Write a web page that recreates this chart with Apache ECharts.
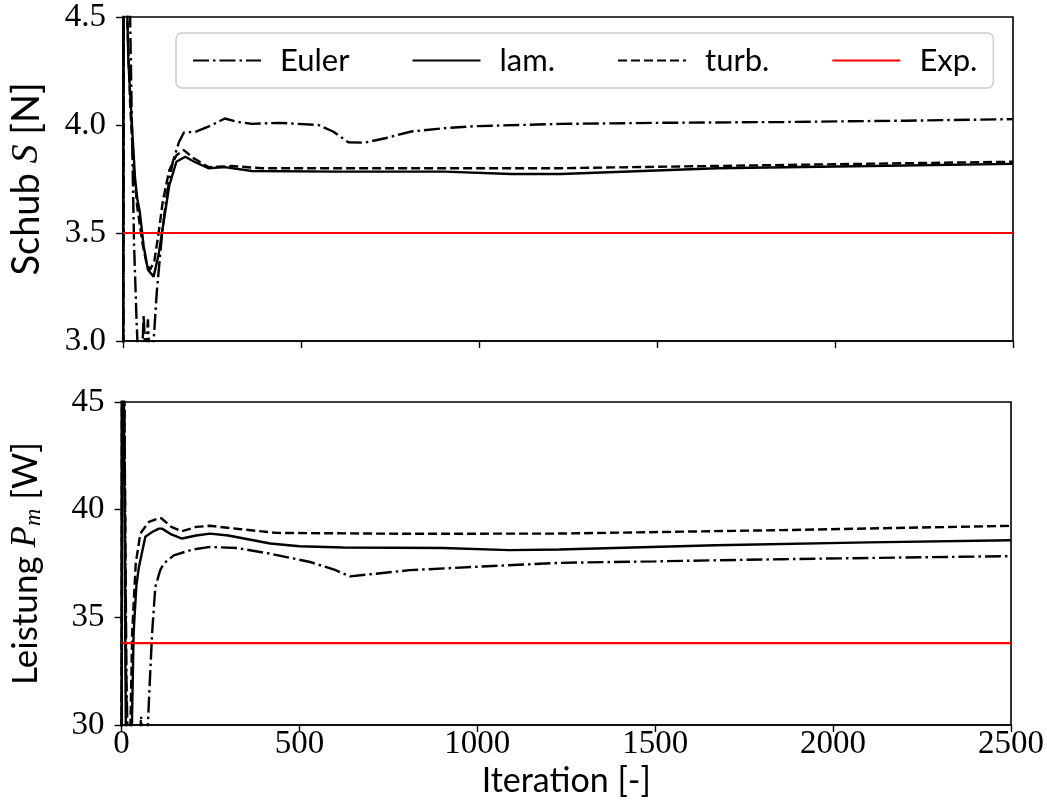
<!DOCTYPE html>
<html>
<head>
<meta charset="utf-8">
<script src="https://cdn.jsdelivr.net/npm/echarts@6/dist/echarts.min.js"></script>
<style>
  html, body { margin: 0; padding: 0; background: #fff; }
  #chart { width: 1047px; height: 812px; }
</style>
</head>
<body>
<div id="chart"></div>
<script>
// Thrust S [N] over iterations, [iteration, value]
const schubEuler = [[0,0.5],[3,6.5],[7,5.5],[12,5.0],[20,4.5],[26,3.9],[31,3.45],[38,3.1],[43,2.9],[52,2.85],[58,3.12],[64,2.9],[70,3.1],[76,2.85],[84,2.95],[95,3.23],[110,3.5],[123,3.68],[140,3.83],[157,3.92],[171,3.965],[207,3.97],[250,4.0],[286,4.03],[320,4.015],[362,4.005],[437,4.01],[549,4.0],[590,3.97],[633,3.92],[678,3.918],[740,3.94],[810,3.97],[900,3.985],[997,3.995],[1230,4.005],[1500,4.01],[1856,4.014],[2200,4.02],[2500,4.027]];
const schubLam = [[0,2.0],[3,6.0],[8,4.8],[15,4.3],[25,4.0],[34,3.75],[40,3.66],[47,3.6],[58,3.44],[70,3.33],[86,3.298],[100,3.4],[114,3.55],[130,3.72],[150,3.83],[175,3.853],[200,3.83],[240,3.8],[286,3.805],[362,3.787],[600,3.784],[903,3.784],[1090,3.773],[1230,3.773],[1670,3.8],[2100,3.81],[2500,3.82]];
const schubTurb = [[0,1.5],[2,6.0],[6,5.0],[12,4.5],[20,4.1],[30,3.8],[40,3.62],[55,3.45],[66,3.36],[76,3.33],[88,3.37],[100,3.5],[112,3.65],[130,3.79],[150,3.86],[171,3.884],[195,3.85],[240,3.805],[305,3.81],[390,3.8],[1000,3.8],[1230,3.8],[1856,3.815],[2500,3.83]];
const schubExp = [[0,3.5],[2500,3.5]];

// Power P_m [W] over iterations, [iteration, value]
const leistungEuler = [[0,20],[3,60],[8,45],[14,32],[20,27],[35,26],[48,28],[55,30.4],[60,29],[70,28.5],[77,31.1],[86,34.26],[95,36.41],[109,37.2],[119,37.5],[147,37.88],[200,38.15],[249,38.27],[324,38.22],[420,37.95],[530,37.57],[600,37.2],[642,36.9],[700,37.0],[810,37.19],[1000,37.35],[1230,37.53],[1500,37.6],[1856,37.7],[2200,37.78],[2500,37.84]];
const leistungLam = [[0,25],[2,60],[6,47],[12,30],[18,25],[26,27],[34,34.26],[42,36.5],[49,37.34],[67,38.74],[85,38.95],[105,39.12],[114,39.12],[140,38.85],[170,38.66],[210,38.8],[249,38.89],[300,38.8],[418,38.43],[500,38.3],[623,38.24],[903,38.22],[1090,38.12],[1230,38.15],[1670,38.35],[2100,38.48],[2500,38.58]];
const leistungTurb = [[0,22],[2,62],[7,48],[13,32],[19,27],[24,29],[30,34.26],[40,37.5],[53,38.9],[77,39.43],[105,39.6],[112,39.6],[140,39.2],[170,39.0],[210,39.2],[249,39.25],[330,39.1],[436,38.92],[800,38.88],[1230,38.89],[1856,39.05],[2500,39.25]];
const leistungExp = [[0,33.8],[2500,33.8]];

const seriesNames = ['Euler', 'lam.', 'turb.', 'Exp.'];

const SERIF = '"Liberation Serif", "DejaVu Serif", serif';
const SANS = 'Lato, "Open Sans", sans-serif';
const FS_TICK = 33;
const FS_LEGEND = 31;

const styles = {
  'Euler': { color: '#000', width: 2.4, type: [16, 4, 2.5, 4], cap: 'butt' },
  'lam.':  { color: '#000', width: 2.4, type: 'solid' },
  'turb.': { color: '#000', width: 2.4, type: [9, 4], cap: 'butt' },
  'Exp.':  { color: '#ff0000', width: 2.2, type: 'solid' }
};

function lineSeries(name, data, idx) {
  return {
    name: name, type: 'line', data: data,
    xAxisIndex: idx, yAxisIndex: idx,
    symbol: 'none', smooth: false, clip: true,
    lineStyle: styles[name], itemStyle: { color: styles[name].color },
    emphasis: { disabled: true }, animation: false
  };
}

function xAxis(idx, showLabels) {
  return {
    type: 'value', gridIndex: idx, min: 0, max: 2500, interval: 500,
    axisLine: { show: true, onZero: false, lineStyle: { color: '#000', width: 1.6 } },
    axisTick: { show: true, inside: false, length: 7, lineStyle: { color: '#000', width: 1.4 } },
    axisLabel: { show: showLabels, color: '#000', fontFamily: SERIF, fontSize: FS_TICK, margin: 3,
      formatter: v => String(v) },
    splitLine: { show: false },
    name: showLabels ? 'Iteration [-]' : '',
    nameLocation: 'middle', nameGap: 32,
    nameTextStyle: { color: '#000', fontFamily: SANS, fontSize: 34, lineHeight: 38 }
  };
}

function richFor(size) {
  return {
    s: { fontFamily: SANS, fontSize: size, lineHeight: 40, color: '#000' },
    m: { fontFamily: SERIF, fontStyle: 'italic', fontSize: size, lineHeight: 40, color: '#000' },
    sub: { fontFamily: SERIF, fontStyle: 'italic', fontSize: Math.round(size * 0.68), lineHeight: 16, verticalAlign: 'bottom', color: '#000' }
  };
}

function yAxis(idx, min, max, interval, digits, name, titleSize) {
  return {
    type: 'value', gridIndex: idx, min: min, max: max, interval: interval,
    axisLine: { show: true, onZero: false, lineStyle: { color: '#000', width: 1.6 } },
    axisTick: { show: true, inside: false, length: 7, lineStyle: { color: '#000', width: 1.4 } },
    axisLabel: { color: '#000', fontFamily: SERIF, fontSize: FS_TICK, margin: 17,
      formatter: v => v.toFixed(digits) },
    splitLine: { show: false },
    name: name, nameLocation: 'middle', nameRotate: 90, nameGap: 76,
    nameTextStyle: { color: '#000', rich: richFor(titleSize) }
  };
}

const chart = echarts.init(document.getElementById('chart'), null, { renderer: 'canvas' });
chart.setOption({
  backgroundColor: '#fff',
  animation: false,
  legend: {
    data: seriesNames,
    left: 176, top: 33,
    padding: [12, 16, 12, 16],
    itemWidth: 68, itemHeight: 14, itemGap: 62,
    itemStyle: { opacity: 0 },
    backgroundColor: 'rgba(255,255,255,0.85)',
    borderColor: '#cccccc', borderWidth: 1.5, borderRadius: 6,
    textStyle: { color: '#000', fontFamily: SANS, fontSize: FS_LEGEND, padding: [0, 0, 0, 14] },
    selectedMode: false
  },
  grid: [
    { left: 121, top: 17, width: 892, height: 324, show: true, borderColor: '#000', borderWidth: 1.6, backgroundColor: 'transparent' },
    { left: 121, top: 402, width: 892, height: 323, show: true, borderColor: '#000', borderWidth: 1.6, backgroundColor: 'transparent' }
  ],
  xAxis: [xAxis(0, false), xAxis(1, true)],
  yAxis: [
    yAxis(0, 3.0, 4.5, 0.5, 1, '{s|Schub }{m|S}{s| [N]}', 38),
    yAxis(1, 30, 45, 5, 0, '{s|Leistung }{m|P}{sub|m}{s| [W]}', 35)
  ],
  series: [
    lineSeries('Euler', schubEuler, 0),
    lineSeries('lam.', schubLam, 0),
    lineSeries('turb.', schubTurb, 0),
    lineSeries('Exp.', schubExp, 0),
    lineSeries('Euler', leistungEuler, 1),
    lineSeries('lam.', leistungLam, 1),
    lineSeries('turb.', leistungTurb, 1),
    lineSeries('Exp.', leistungExp, 1)
  ]
});
</script>
</body>
</html>
